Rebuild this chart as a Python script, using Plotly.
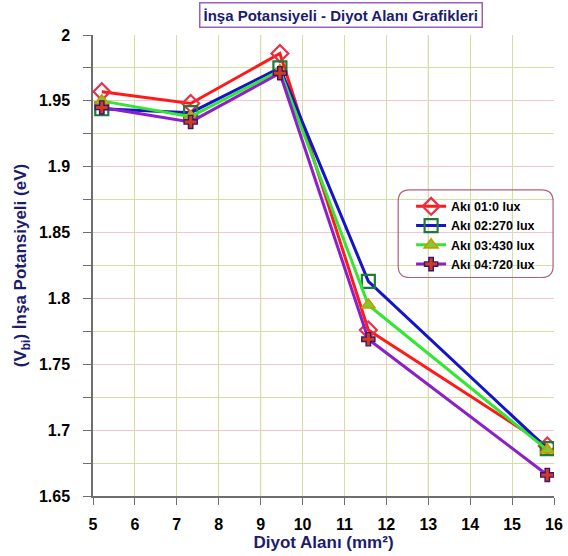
import plotly.graph_objects as go

# Diyot alanları (mm²) ve her aydınlatma seviyesi için İnşa potansiyeli (eV)
diyot_alani = [5.21, 7.33, 9.46, 11.57, 15.84]

aki_01 = [1.957, 1.948, 1.986, 1.776, 1.688]
aki_02 = [1.944, 1.941, 1.975, 1.813, 1.686]
aki_03 = [1.950, 1.938, 1.973, 1.795, 1.685]
aki_04 = [1.945, 1.934, 1.971, 1.769, 1.666]

seri_adlari = ["Akı 01:0 lux", "Akı 02:270 lux", "Akı 03:430 lux", "Akı 04:720 lux"]

x_ticks = list(range(5, 17))

FONT = "Arial, Liberation Sans, sans-serif"
NAVY = "#1c1c6e"

styles = [
    dict(line=dict(color="#ff1a1a", width=3),
         marker=dict(symbol="diamond-open", size=13, color="#e8304a", line=dict(width=2.2, color="#e8304a"))),
    dict(line=dict(color="#1414c8", width=3),
         marker=dict(symbol="square-open", size=13, color="#1f7a3a", line=dict(width=2.2, color="#1f7a3a"))),
    dict(line=dict(color="#33e633", width=3),
         marker=dict(symbol="triangle-up", size=12, color="#7ccc30", line=dict(width=1.6, color="#c89a00"))),
    dict(line=dict(color="#8c1fc8", width=3),
         marker=dict(symbol="cross", size=11, color="#d23c1e", line=dict(width=1.4, color="#3c1470"))),
]

fig = go.Figure()
for name, ys, st in zip(seri_adlari, [aki_01, aki_02, aki_03, aki_04], styles):
    fig.add_trace(go.Scatter(x=diyot_alani, y=ys, mode="lines+markers", name=name,
                             line=st["line"], marker=st["marker"]))

# Pembe ana dikey ızgara çizgileri (her 4 birimde)
for xv in [9, 13]:
    fig.add_shape(type="line", xref="x", yref="paper", x0=xv, x1=xv, y0=0, y1=1,
                  line=dict(color="#f2c6cc", width=1.2), layer="below")

# Lejant çerçevesi (yuvarlatılmış köşeler)
x0, x1, y0, y1, r = 0.662, 0.998, 0.474, 0.664, 0.025
path = (f"M {x0 + r},{y0} L {x1 - r},{y0} Q {x1},{y0} {x1},{y0 + r} "
        f"L {x1},{y1 - r} Q {x1},{y1} {x1 - r},{y1} L {x0 + r},{y1} "
        f"Q {x0},{y1} {x0},{y1 - r} L {x0},{y0 + r} Q {x0},{y0} {x0 + r},{y0} Z")
fig.add_shape(type="path", path=path, xref="paper", yref="paper",
              line=dict(color="#b0607c", width=1.2), layer="above")

fig.add_annotation(text="<b>İnşa Potansiyeli - Diyot Alanı Grafikleri</b>",
                   xref="paper", yref="paper", x=0.538, y=1.0, yshift=20, yanchor="middle",
                   showarrow=False, font=dict(family=FONT, size=15, color=NAVY),
                   bordercolor="#9b5fc0", borderwidth=1.5, borderpad=3, bgcolor="white")

fig.update_layout(
    width=568, height=556,
    margin=dict(l=93, r=14, t=35, b=60, autoexpand=False),
    plot_bgcolor="white", paper_bgcolor="white",
    font=dict(family=FONT, size=15, color="black"),
    showlegend=True,
    legend=dict(x=0.69, y=0.66, xanchor="left", yanchor="top", bgcolor="rgba(0,0,0,0)",
                font=dict(family=FONT, size=12.5, color="black", weight="bold"),
                tracegroupgap=0, itemwidth=30, borderwidth=0),
    xaxis=dict(range=[5, 16], tickvals=x_ticks, ticktext=[f"<b>{v}</b>" for v in x_ticks],
               automargin=False,
               showline=True, linecolor="#6e6e6e", linewidth=1.5,
               ticks="outside", ticklen=7, tickcolor="#6e6e6e", tickwidth=1.2,
               ticklabelstandoff=6,
               showgrid=True, gridcolor="#d3e0a4", gridwidth=1.2, zeroline=False,
               tickfont=dict(family=FONT, size=16, color="black"),
               title=dict(text="<b>Diyot Alanı (mm²)</b>", font=dict(family=FONT, size=17, color=NAVY),
                          standoff=4)),
    yaxis=dict(range=[1.65, 2.0], dtick=0.05, tick0=1.65, tickformat="~g",
               automargin=False,
               showline=True, linecolor="#6e6e6e", linewidth=1.5,
               ticks="outside", ticklen=8, tickcolor="#6e6e6e", tickwidth=1.2,
               ticklabelstandoff=10,
               showgrid=True, gridcolor="#f2c6cc", gridwidth=1.2, zeroline=False,
               minor=dict(dtick=0.025, ticks="outside", ticklen=8, tickcolor="#6e6e6e",
                          showgrid=True, gridcolor="#d3e0a4", gridwidth=1.2),
               tickfont=dict(family=FONT, size=16, color="black", weight="bold"),
               title=dict(text="<b>(V<sub>bi</sub>) İnşa Potansiyeli (eV)</b>",
                          font=dict(family=FONT, size=17, color=NAVY), standoff=8)),
)

fig.write_html("out.html")
